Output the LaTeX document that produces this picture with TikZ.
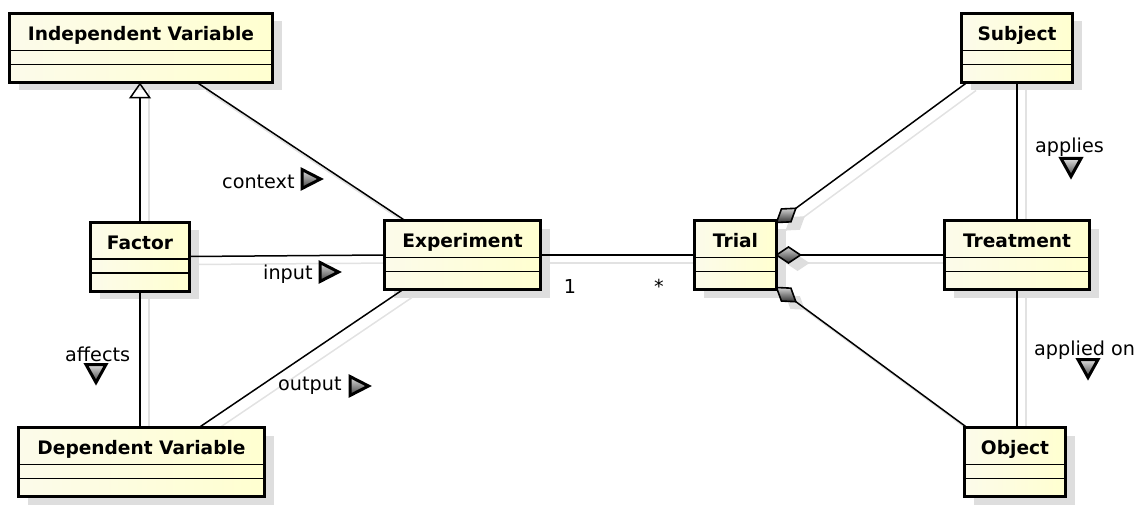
\documentclass[tikz,border=0pt]{standalone}
\usepackage{fontspec}
\setmainfont{DejaVu Sans}
\usetikzlibrary{calc,arrows.meta}

\definecolor{classlight}{RGB}{252,251,234}
\definecolor{classdark}{RGB}{255,255,208}
\definecolor{shadowgray}{RGB}{222,222,222}
\definecolor{lineshadow}{RGB}{226,226,226}

\pgfdeclarelayer{shadow}
\pgfdeclarelayer{lines}
\pgfsetlayers{shadow,lines,main}

\tikzset{
  classbody/.style={draw, line width=3pt, left color=classlight, right color=classdark,
    inner sep=0pt, outer sep=0pt, anchor=north west},
  classtitle/.style={font=\fontsize{18.6}{22}\selectfont\bfseries, anchor=base, inner sep=0pt},
  divider/.style={line width=1.5pt},
  assoc/.style={line width=1.5pt},
  assocshadow/.style={line width=1.5pt, draw=lineshadow},
  lbl/.style={font=\fontsize{19.2}{23}\selectfont, inner sep=0pt},
  marker/.style={line width=3pt, line join=miter, top color=gray!25, bottom color=black!75, draw=black},
  compmark/.style={line width=1.6pt, line join=miter, top color=gray!35, bottom color=black!80, draw=black},
}

% class box: name, left, top, width, title
\newcommand{\umlclass}[5]{%
  \node[classbody, minimum width=#4pt, minimum height=69pt] (#1) at (#2,#3) {};
  \begin{pgfonlayer}{shadow}
    \fill[shadowgray] ($(#1.north west)+(9,8)$) rectangle ($(#1.south east)+(9,8)$);
  \end{pgfonlayer}
  \draw[divider] ($(#1.north west)+(0,37)$) -- ($(#1.north east)+(0,37)$);
  \draw[divider] ($(#1.north west)+(0,51)$) -- ($(#1.north east)+(0,51)$);
  \node[classtitle] (#1-title) at ($(#1.north)+(0,27)$) {#5};
}

% association line with its soft shadow
\newcommand{\assocline}[2]{%
  \begin{pgfonlayer}{shadow}
    \draw[assocshadow] ($(#1)+(9,8)$) -- ($(#2)+(9,8)$);
  \end{pgfonlayer}
  \begin{pgfonlayer}{lines}
    \draw[assoc] (#1) -- (#2);
  \end{pgfonlayer}
}

% composition diamond: tip at #1, pointing along the line towards #2
\newcommand{\compdiamond}[2]{%
  \begin{pgfonlayer}{shadow}
    \fill[shadowgray] ($(#1)+(9,8)$) -- ($($(#1)!12pt!(#2)!8pt!90:(#2)$)+(9,8)$)
      -- ($($(#1)!24pt!(#2)$)+(9,8)$) -- ($($(#1)!12pt!(#2)!8pt!-90:(#2)$)+(9,8)$) -- cycle;
  \end{pgfonlayer}
  \path[compmark] (#1) -- ($(#1)!12pt!(#2)!8pt!90:(#2)$) -- ($(#1)!24pt!(#2)$)
    -- ($(#1)!12pt!(#2)!8pt!-90:(#2)$) -- cycle;
}

% reading-direction markers
\newcommand{\dirright}[1]{\path[marker] ($(#1)+(-9,-9.5)$) -- ($(#1)+(9.5,0)$) -- ($(#1)+(-9,9.5)$) -- cycle;}
\newcommand{\dirdown}[1]{\path[marker] ($(#1)+(-10,-8.5)$) -- ($(#1)+(10,-8.5)$) -- ($(#1)+(0,9.5)$) -- cycle;}

\begin{document}
\begin{tikzpicture}[x=1pt, y=-1pt]
\useasboundingbox (0,0) rectangle (1148,505);

% classes
\umlclass{iv}{9.5}{13.5}{263}{Independent Variable}
\umlclass{factor}{90.5}{222}{99}{Factor}
\umlclass{experiment}{384.5}{220.5}{156}{Experiment}
\umlclass{trial}{694.5}{220.5}{82}{Trial}
\umlclass{treatment}{944.5}{220.5}{145}{Treatment}
\umlclass{subject}{961.5}{13.5}{111}{Subject}
\umlclass{object}{964.5}{427.5}{101}{Object}
\umlclass{dv}{18.5}{427.5}{246}{Dependent Variable}

% connection points
\coordinate (ctxA) at ($(iv.south west)+(187.5,0)$);
\coordinate (ctxB) at ($(experiment.north west)+(20.5,0)$);
\coordinate (outA) at ($(experiment.south west)+(18.5,0)$);
\coordinate (outB) at ($(dv.north west)+(180.5,0)$);
\coordinate (genB) at (factor.north |- iv.south);
\coordinate (affB) at (factor.south |- dv.north);
\coordinate (subA) at ($(trial.north east)+(0,2)$);
\coordinate (subB) at ($(subject.south west)+(5.5,0)$);
\coordinate (objA) at ($(trial.south east)+(0,-2)$);
\coordinate (objB) at ($(object.north west)+(2.5,0)$);
\coordinate (aponB) at (treatment.south |- object.north);

% generalization Factor -> Independent Variable
\begin{pgfonlayer}{shadow}
  \draw[assocshadow] ($(factor.north)+(9,8)$) -- ($(genB)+(9,8)$);
\end{pgfonlayer}
\begin{pgfonlayer}{lines}
  \draw[assoc, -{Triangle[open, length=16pt, width=22pt, line width=1.5pt]}] (factor.north) -- (genB);
\end{pgfonlayer}

% associations
\assocline{ctxA}{ctxB}
\assocline{factor.east}{experiment.west}
\assocline{outA}{outB}
\assocline{factor.south}{affB}
\assocline{experiment.east}{trial.west}
\assocline{subA}{subB}
\assocline{trial.east}{treatment.west}
\assocline{objA}{objB}
\assocline{subject.south}{treatment.north}
\assocline{treatment.south}{aponB}

% compositions on Trial
\compdiamond{subA}{subB}
\compdiamond{trial.east}{treatment.west}
\compdiamond{objA}{objB}

% association names
\node[lbl, anchor=base west] (lblcontext) at (222,189) {context};
\node[lbl, anchor=base west] (lblinput) at (263,279) {input};
\node[lbl, anchor=base west] (lbloutput) at (278,390) {output};
\node[lbl, anchor=base west] (lblaffects) at (65,361) {affects};
\node[lbl, anchor=base west] (lblapplies) at (1035,153) {applies};
\node[lbl, anchor=base west] (lblappliedon) at (1034,355) {applied on};

% multiplicities
\node[lbl, anchor=base] (multone) at (570,293) {1};
\node[lbl, anchor=base] (multmany) at (659,293) {*};

% direction markers
\coordinate (mctx) at (311,179);
\coordinate (minp) at (329,272);
\coordinate (mout) at (359,386);
\coordinate (maff) at (96,373);
\coordinate (mapp) at (1071,167);
\coordinate (mapo) at (1088,368);
\dirright{mctx}
\dirright{minp}
\dirright{mout}
\dirdown{maff}
\dirdown{mapp}
\dirdown{mapo}
\end{tikzpicture}
\end{document}
